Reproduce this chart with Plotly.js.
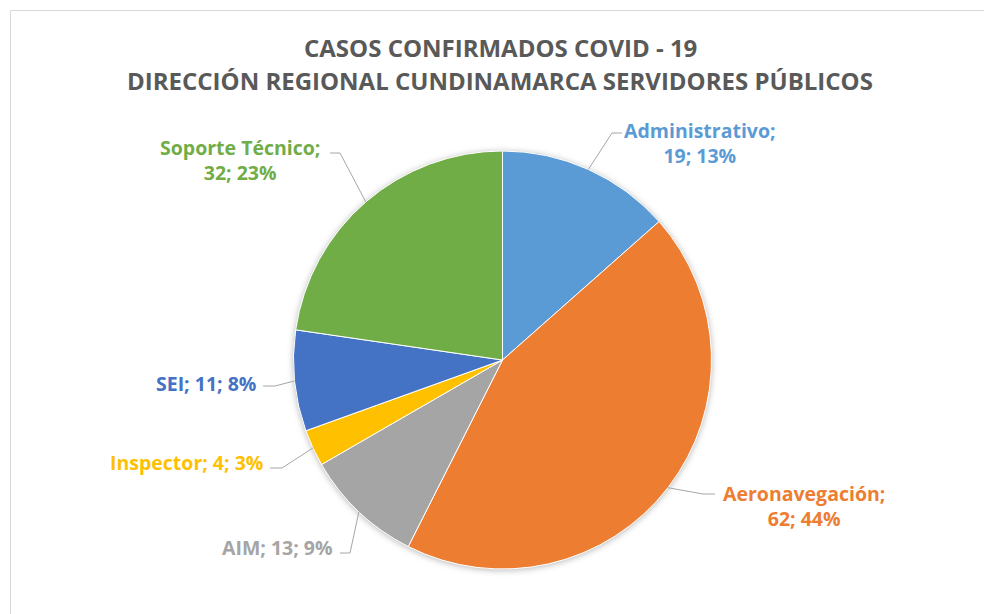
<!DOCTYPE html>
<html>
<head>
<meta charset="utf-8">
<script src="https://cdn.plot.ly/plotly-3.0.1.min.js"></script>
<style>
  html, body { margin: 0; padding: 0; background: #fff; }
  #chart { width: 984px; height: 614px; }
  #chart .pielayer { filter: drop-shadow(0 1px 3px rgba(0, 0, 0, 0.28)); }
</style>
</head>
<body>
<div id="chart"></div>
<script>
const categories = ['Administrativo', 'Aeronavegación', 'AIM', 'Inspector', 'SEI', 'Soporte Técnico']
const casos = [19, 62, 13, 4, 11, 32]
const colors = ['#5B9BD5', '#ED7D31', '#A5A5A5', '#FFC000', '#4472C4', '#70AD47']
const titleLines = ['CASOS CONFIRMADOS COVID - 19', 'DIRECCIÓN REGIONAL CUNDINAMARCA SERVIDORES PÚBLICOS']

// where each data label sits, in pixels, and where its leader line bends
const labelX = [700, 804, 335, 265, 258, 240]
const labelY = [143, 506, 547, 462, 383, 160]
const labelAnchor = ['center', 'center', 'right', 'right', 'right', 'center']
const labelWrap = [true, true, false, false, false, true]
const leaderY = [133, 494, 553, 468, 386, 153]
const leaderElbowX = [612, 703, 350, 282, 275, 340]
const leaderEndX = [622, 715, 340, 270, 263, 330]

const W = 984
const H = 614
const cx = 502.5
const cy = 360
const r = 209
const font = '"Open Sans", Lato, sans-serif'

const px = (x) => x / W
const py = (y) => 1 - y / H

const total = casos.reduce((a, b) => a + b, 0)
const pct = casos.map((v) => Math.round((v / total) * 100))

// edge point of each slice, at the middle of its angle (clockwise from 12 o'clock)
let acc = 0
const edges = casos.map((v) => {
  const mid = (acc + v / 2) / total
  acc += v
  const a = mid * 2 * Math.PI
  return [cx + r * Math.sin(a), cy - r * Math.cos(a)]
})

const leaders = edges.map(([ex, ey], i) => ({
  type: 'path',
  xref: 'paper',
  yref: 'paper',
  path: `M ${px(ex)},${py(ey)} L ${px(leaderElbowX[i])},${py(leaderY[i])} L ${px(leaderEndX[i])},${py(leaderY[i])}`,
  line: {color: '#A6A6A6', width: 1},
}))

const labels = categories.map((c, i) => ({
  xref: 'paper',
  yref: 'paper',
  x: px(labelX[i]),
  y: py(labelY[i]),
  xanchor: labelAnchor[i],
  yanchor: 'middle',
  align: 'center',
  showarrow: false,
  text: `<b>${c};${labelWrap[i] ? '<br>' : ' '}${casos[i]}; ${pct[i]}%</b>`,
  font: {family: font, size: 19.5, color: colors[i]},
}))

const titleAnns = titleLines.map((t, i) => ({
  xref: 'paper',
  yref: 'paper',
  x: px(500),
  y: py(i === 0 ? 47 : 80),
  xanchor: 'center',
  yanchor: 'middle',
  showarrow: false,
  text: `<b>${t}</b>`,
  font: {family: font, size: 24, color: '#595959'},
}))

const border = {
  type: 'rect',
  xref: 'paper',
  yref: 'paper',
  x0: px(10.5),
  x1: px(1000),
  y0: py(700),
  y1: py(10.5),
  line: {color: '#D9D9D9', width: 1},
}

const trace = {
  type: 'pie',
  labels: categories,
  values: casos,
  sort: false,
  direction: 'clockwise',
  rotation: 0,
  textinfo: 'none',
  hoverinfo: 'none',
  showlegend: false,
  marker: {colors: colors, line: {color: '#FFFFFF', width: 1}},
  domain: {x: [px(cx - r), px(cx + r)], y: [py(cy + r), py(cy - r)]},
}

const layout = {
  width: W,
  height: H,
  margin: {l: 0, r: 0, t: 0, b: 0, pad: 0},
  paper_bgcolor: '#FFFFFF',
  showlegend: false,
  shapes: [border, ...leaders],
  annotations: [...titleAnns, ...labels],
}

Plotly.newPlot('chart', [trace], layout, {staticPlot: true})
</script>
</body>
</html>
